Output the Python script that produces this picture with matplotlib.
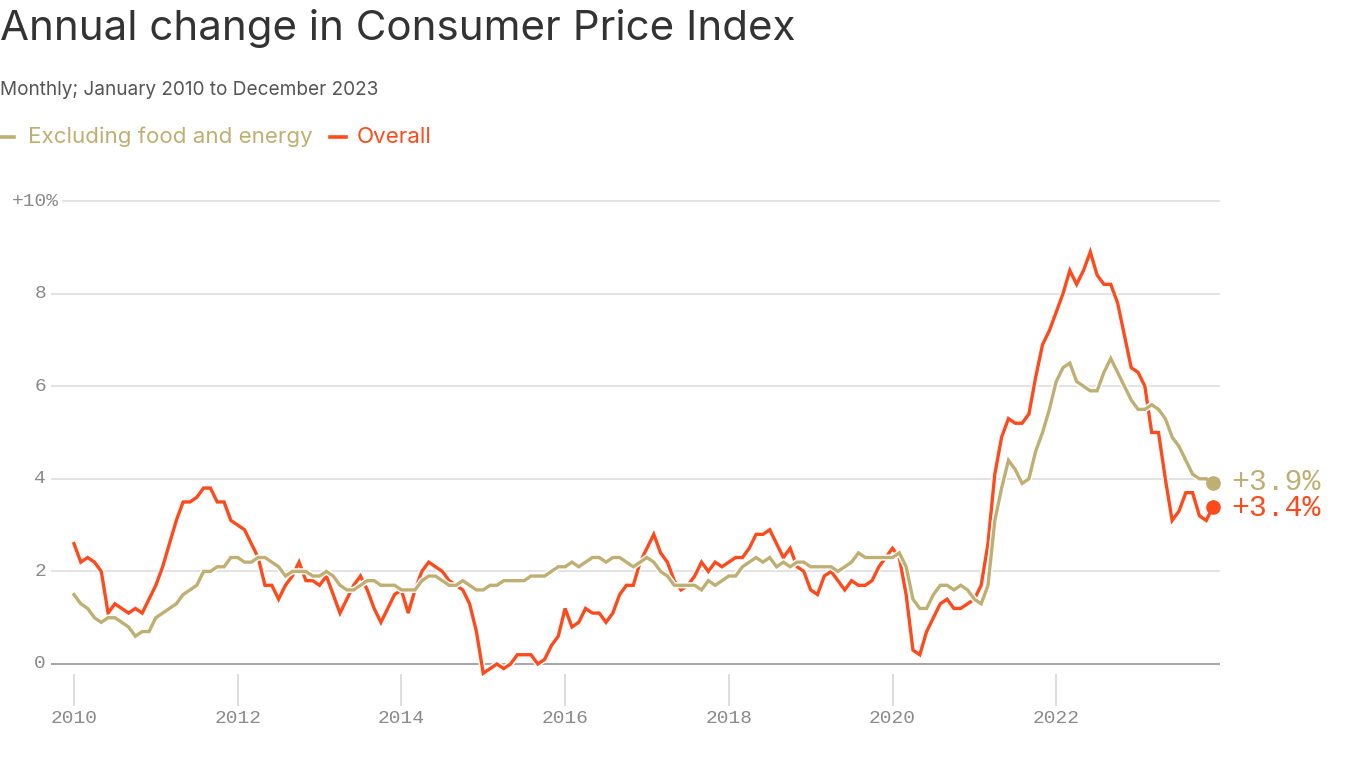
import numpy as np
import matplotlib
matplotlib.use("Agg")
import matplotlib.pyplot as plt
import matplotlib.patheffects as pe

# ---------------- data (annual % change, monthly Jan 2010 - Dec 2023) ----------------
overall = [
    2.6, 2.2, 2.3, 2.2, 2.0, 1.1, 1.3, 1.2, 1.1, 1.2, 1.1, 1.4,   # 2010
    1.7, 2.1, 2.6, 3.1, 3.5, 3.5, 3.6, 3.8, 3.8, 3.5, 3.5, 3.1,   # 2011
    3.0, 2.9, 2.6, 2.3, 1.7, 1.7, 1.4, 1.7, 1.9, 2.2, 1.8, 1.8,   # 2012
    1.7, 1.9, 1.5, 1.1, 1.4, 1.7, 1.9, 1.6, 1.2, 0.9, 1.2, 1.5,   # 2013
    1.6, 1.1, 1.6, 2.0, 2.2, 2.1, 2.0, 1.8, 1.7, 1.6, 1.3, 0.7,   # 2014
    -0.2, -0.1, 0.0, -0.1, 0.0, 0.2, 0.2, 0.2, 0.0, 0.1, 0.4, 0.6,  # 2015
    1.2, 0.8, 0.9, 1.2, 1.1, 1.1, 0.9, 1.1, 1.5, 1.7, 1.7, 2.2,   # 2016
    2.5, 2.8, 2.4, 2.2, 1.8, 1.6, 1.7, 1.9, 2.2, 2.0, 2.2, 2.1,   # 2017
    2.2, 2.3, 2.3, 2.5, 2.8, 2.8, 2.9, 2.6, 2.3, 2.5, 2.1, 2.0,   # 2018
    1.6, 1.5, 1.9, 2.0, 1.8, 1.6, 1.8, 1.7, 1.7, 1.8, 2.1, 2.3,   # 2019
    2.5, 2.3, 1.5, 0.3, 0.2, 0.7, 1.0, 1.3, 1.4, 1.2, 1.2, 1.3,   # 2020
    1.4, 1.7, 2.6, 4.1, 4.9, 5.3, 5.2, 5.2, 5.4, 6.2, 6.9, 7.2,   # 2021
    7.6, 8.0, 8.5, 8.2, 8.5, 8.9, 8.4, 8.2, 8.2, 7.8, 7.1, 6.4,   # 2022
    6.3, 6.0, 5.0, 5.0, 4.0, 3.1, 3.3, 3.7, 3.7, 3.2, 3.1, 3.4,   # 2023
]
core = [
    1.5, 1.3, 1.2, 1.0, 0.9, 1.0, 1.0, 0.9, 0.8, 0.6, 0.7, 0.7,   # 2010
    1.0, 1.1, 1.2, 1.3, 1.5, 1.6, 1.7, 2.0, 2.0, 2.1, 2.1, 2.3,   # 2011
    2.3, 2.2, 2.2, 2.3, 2.3, 2.2, 2.1, 1.9, 2.0, 2.0, 2.0, 1.9,   # 2012
    1.9, 2.0, 1.9, 1.7, 1.6, 1.6, 1.7, 1.8, 1.8, 1.7, 1.7, 1.7,   # 2013
    1.6, 1.6, 1.6, 1.8, 1.9, 1.9, 1.8, 1.7, 1.7, 1.8, 1.7, 1.6,   # 2014
    1.6, 1.7, 1.7, 1.8, 1.8, 1.8, 1.8, 1.9, 1.9, 1.9, 2.0, 2.1,   # 2015
    2.1, 2.2, 2.1, 2.2, 2.3, 2.3, 2.2, 2.3, 2.3, 2.2, 2.1, 2.2,   # 2016
    2.3, 2.2, 2.0, 1.9, 1.7, 1.7, 1.7, 1.7, 1.6, 1.8, 1.7, 1.8,   # 2017
    1.9, 1.9, 2.1, 2.2, 2.3, 2.2, 2.3, 2.1, 2.2, 2.1, 2.2, 2.2,   # 2018
    2.1, 2.1, 2.1, 2.1, 2.0, 2.1, 2.2, 2.4, 2.3, 2.3, 2.3, 2.3,   # 2019
    2.3, 2.4, 2.1, 1.4, 1.2, 1.2, 1.5, 1.7, 1.7, 1.6, 1.7, 1.6,   # 2020
    1.4, 1.3, 1.7, 3.1, 3.8, 4.4, 4.2, 3.9, 4.0, 4.6, 5.0, 5.5,   # 2021
    6.1, 6.4, 6.5, 6.1, 6.0, 5.9, 5.9, 6.3, 6.6, 6.3, 6.0, 5.7,   # 2022
    5.5, 5.5, 5.6, 5.5, 5.3, 4.9, 4.7, 4.4, 4.1, 4.0, 4.0, 3.9,   # 2023
]
year_ticks = [2010, 2012, 2014, 2016, 2018, 2020, 2022]
y_ticks = [0, 2, 4, 6, 8, 10]
y_tick_labels = ["0", "2", "4", "6", "8", "+10%"]

title = "Annual change in Consumer Price Index"
subtitle = "Monthly; January 2010 to December 2023"
core_name = "Excluding food and energy"
overall_name = "Overall"

# ---------------- style ----------------
RED = "#FF4A1C"
TAN = "#BFAF72"
GRID = "#E3E3E3"
TICKC = "#8A8A8A"
W, H = 1366, 768

t = np.arange(len(overall)) / 12.0 + 2010  # decimal years

fig = plt.figure(figsize=(W / 100, H / 100), dpi=100)
fig.patch.set_facecolor("white")

# axes placement (pixel based)
px_per_year = 81.85
x0_px = 74.0          # pixel of Jan 2010
ax_left, ax_right = 51, 1220
y0_px, px_per_unit = 664.0, 46.3
ymin, ymax = -1.0, 10.5
ax_top_px = y0_px - px_per_unit * ymax
ax_bot_px = y0_px - px_per_unit * ymin
ax = fig.add_axes([ax_left / W, 1 - ax_bot_px / H, (ax_right - ax_left) / W,
                   (ax_bot_px - ax_top_px) / H])
ax.set_xlim(2010 + (ax_left - x0_px) / px_per_year, 2010 + (ax_right - x0_px) / px_per_year)
ax.set_ylim(ymin, ymax)
ax.axis("off")

mono = "Liberation Mono"
sans = "Inter"

# gridlines
for v in y_ticks:
    if v == 0:
        ax.axhline(v, color="#A8A8A8", lw=1.5, zorder=1)
    elif v == 10:
        ax.axhline(v, xmin=(63 - ax_left) / (ax_right - ax_left), xmax=1, color=GRID, lw=1.4, zorder=1)
    else:
        ax.axhline(v, color=GRID, lw=1.4, zorder=1)

# y labels
ytrans = ax.get_yaxis_transform()
for v, lab in zip(y_ticks, y_tick_labels):
    xr = (46 - ax_left) / (ax_right - ax_left) if v != 10 else (59 - ax_left) / (ax_right - ax_left)
    ax.text(xr, v, lab, transform=ytrans, ha="right", va="center", fontsize=14,
            family=mono, color=TICKC, clip_on=False)

# x ticks
ax.vlines(year_ticks, -0.9, -0.22, color="#DDDDDD", lw=1.4, zorder=1)
for yr in year_ticks:
    ax.text(yr, -1.17, str(yr), ha="center", va="center", fontsize=14, family=mono,
            color=TICKC, clip_on=False)

# lines
ax.plot(t, overall, color=RED, lw=2.4, zorder=3, solid_joinstyle="miter",
        path_effects=[pe.Stroke(linewidth=4.5, foreground="white"), pe.Normal()])
ax.plot(t, core, color=TAN, lw=2.4, zorder=4, solid_joinstyle="miter",
        path_effects=[pe.Stroke(linewidth=4.5, foreground="white"), pe.Normal()])

# end dots and labels
ax.plot(t[-1], core[-1], "o", color=TAN, ms=9.5, zorder=5, clip_on=False)
ax.plot(t[-1], overall[-1], "o", color=RED, ms=9.5, zorder=5, clip_on=False)
ax.annotate(f"+{core[-1]:.1f}%", xy=(t[-1], core[-1] + 0.04), xytext=(13, 0),
            textcoords="offset points", ha="left", va="center", fontsize=21.5,
            family=mono, color=TAN, annotation_clip=False)
ax.annotate(f"+{overall[-1]:.1f}%", xy=(t[-1], overall[-1] - 0.04), xytext=(13, 0),
            textcoords="offset points", ha="left", va="center", fontsize=21.5,
            family=mono, color=RED, annotation_clip=False)

# titles
fig.text(0 / W, 1 - 29 / H, title, ha="left", va="center", fontsize=30.3,
         family=sans, color="#333333")
fig.text(0 / W, 1 - 90 / H, subtitle, ha="left", va="center", fontsize=13.7,
         family=sans, color="#555555")

# legend
fig.add_artist(plt.Line2D([0 / W, 14 / W], [1 - 137 / H] * 2, color=TAN, lw=2.6))
fig.text(28 / W, 1 - 137 / H, core_name, ha="left", va="center", fontsize=16.1,
         family=sans, color=TAN)
fig.add_artist(plt.Line2D([330 / W, 346 / W], [1 - 137 / H] * 2, color=RED, lw=2.6))
fig.text(357 / W, 1 - 137 / H, overall_name, ha="left", va="center", fontsize=16.1,
         family=sans, color=RED)

fig.savefig("out.png", dpi=100, facecolor="white")
